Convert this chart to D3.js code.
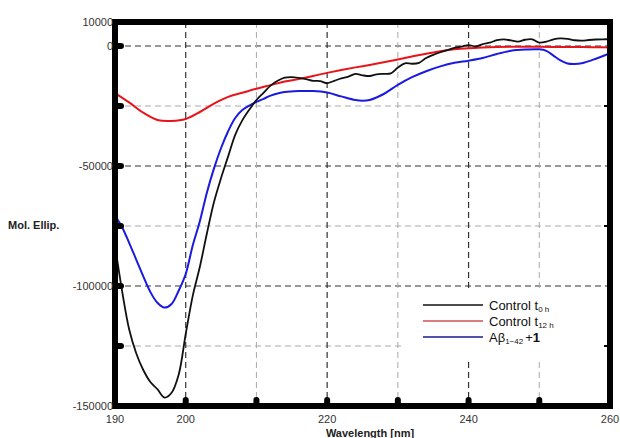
<!DOCTYPE html>
<html>
<head>
<meta charset="utf-8">
<script src="https://cdn.jsdelivr.net/npm/d3@7"></script>
<style>
  body { margin: 0; background: #fff; }
  svg text { font-family: Arial, "Liberation Sans", sans-serif; }
</style>
</head>
<body>
<svg id="vis" width="620" height="438"></svg>
<script>
// wavelength (nm) and mean residue ellipticity
const wlControl0 = d3.range(190, 261, 1);
const control0 = [
  -83000, -102000, -118000, -128000, -135000, -140000, -143000, -146500, -144500, -137000,
  -120000, -104000, -92000, -78000, -65000, -55000, -46000, -37000, -31000, -26500,
  -22500, -19500, -16500, -14500, -13200, -13000, -13300, -13800, -14500, -14600,
  -15500, -14500, -13500, -12800, -11600, -12200, -12500, -11800, -11600, -11400,
  -9000, -7200, -7400, -7000, -5000, -3700, -2600, -1700, -800, -300,
  400, -200, 800, 1400, 2400, 2800, 2300, 1800, 2600, 2800,
  1400, 1800, 2800, 3200, 3000, 2400, 2200, 2500, 2700, 2800,
  2800
];

const wlControl12 = d3.range(190, 261, 2);
const control12 = [
  -19600, -23500, -27800, -30800, -31200, -30400, -27500, -24000, -21200, -19500,
  -17800, -16300, -14800, -13800, -12500, -11200, -10000, -8900, -7900, -6800,
  -5600, -4400, -3200, -2200, -1400, -900, -600, -400, -300, -300,
  -350, -400, -400, -450, -500, -600
];

const wlAbeta = [190, 191, 192, 193, 194, 195, 196, 197, 198, 199,
  200, 201, 202, 203, 204, 205, 206, 207, 208, 209,
  210, 211, 212, 213, 214, 216, 218, 220, 222, 224,
  225, 226, 228, 230, 232, 234, 236, 238, 240, 242,
  244, 246, 248, 250, 251, 252, 253, 254, 255, 256,
  258, 260];
const abeta = [-70800, -75500, -82000, -89000, -96000, -102500, -107000, -109000, -107500, -102000,
  -95000, -83000, -73000, -61000, -51000, -42500, -35500, -30000, -26700, -24800,
  -23300, -22000, -20700, -19800, -19200, -18800, -18800, -19400, -21000, -22500,
  -22800, -22500, -20000, -16200, -13000, -10500, -8500, -7000, -6100, -5000,
  -3300, -2000, -1500, -1400, -2000, -4000, -6000, -7300, -7500, -7200,
  -5300, -3000];

const yTickLabels = [10000, 0, -50000, -100000, -150000];
const xTickLabels = [190, 200, 220, 240, 260];
const yMajorGrid = [0, -50000, -100000];
const yMinorGrid = [-25000, -75000, -125000];
const xMajorGrid = [200, 220, 240];
const xMinorGrid = [210, 230, 250];

const svg = d3.select("svg#vis");
const plot = { left: 115, right: 610, top: 22, bottom: 406 };

const x = d3.scaleLinear().domain([190, 260]).range([plot.left, plot.right]);
const y = d3.scaleLinear().domain([-150000, 10000]).range([plot.bottom, plot.top]);

// grid
const grid = svg.append("g");
grid.selectAll("line.hmaj").data(yMajorGrid).enter().append("line")
  .attr("x1", plot.left).attr("x2", plot.right)
  .attr("y1", d => y(d)).attr("y2", d => y(d))
  .attr("stroke", "#333").attr("stroke-width", 1.2).attr("stroke-dasharray", "6,4");
grid.selectAll("line.hmin").data(yMinorGrid).enter().append("line")
  .attr("x1", plot.left).attr("x2", plot.right)
  .attr("y1", d => y(d)).attr("y2", d => y(d))
  .attr("stroke", "#aaa").attr("stroke-width", 1).attr("stroke-dasharray", "6,4");
grid.selectAll("line.vmaj").data(xMajorGrid).enter().append("line")
  .attr("y1", plot.top).attr("y2", plot.bottom)
  .attr("x1", d => x(d)).attr("x2", d => x(d))
  .attr("stroke", "#333").attr("stroke-width", 1.2).attr("stroke-dasharray", "6,4");
grid.selectAll("line.vmin").data(xMinorGrid).enter().append("line")
  .attr("y1", plot.top).attr("y2", plot.bottom)
  .attr("x1", d => x(d)).attr("x2", d => x(d))
  .attr("stroke", "#aaa").attr("stroke-width", 1).attr("stroke-dasharray", "6,4");

// legend box (white, covers grid)
const legend = svg.append("g");
legend.append("rect")
  .attr("x", 405).attr("y", 290).attr("width", 202).attr("height", 70)
  .attr("fill", "#fff");

// curves
const line = d3.line()
  .x(d => x(d[0]))
  .y(d => y(d[1]))
  .curve(d3.curveCatmullRom);

const series = [
  { wl: wlControl12, v: control12, color: "#e8141a", w: 2 },
  { wl: wlAbeta, v: abeta, color: "#1a1ae0", w: 2 },
  { wl: wlControl0, v: control0, color: "#111", w: 1.8 }
];
svg.append("g").selectAll("path.curve").data(series).enter().append("path")
  .attr("d", s => line(s.wl.map((w, i) => [w, s.v[i]])))
  .attr("fill", "none")
  .attr("stroke", s => s.color)
  .attr("stroke-width", s => s.w)
  .attr("stroke-linejoin", "round");

// tick nubs on the frame
const nubs = svg.append("g").attr("fill", "#000");
nubs.selectAll("rect.ny").data(yMajorGrid.concat(yMinorGrid)).enter().append("rect")
  .attr("x", plot.left).attr("y", d => y(d) - 3)
  .attr("width", 9).attr("height", 6).attr("rx", 3);
nubs.selectAll("rect.nx").data(xMajorGrid.concat(xMinorGrid)).enter().append("rect")
  .attr("x", d => x(d) - 3).attr("y", plot.bottom - 9)
  .attr("width", 6).attr("height", 9).attr("rx", 3);
nubs.selectAll("rect.nr").data(yMinorGrid).enter().append("rect")
  .attr("x", plot.right - 6).attr("y", d => y(d) - 1)
  .attr("width", 6).attr("height", 2);

// frame
svg.append("rect")
  .attr("x", plot.left).attr("y", plot.top)
  .attr("width", plot.right - plot.left).attr("height", plot.bottom - plot.top)
  .attr("fill", "none").attr("stroke", "#000").attr("stroke-width", 6);

// tick labels
svg.append("g").selectAll("text").data(yTickLabels).enter().append("text")
  .attr("x", 113).attr("y", d => y(d)).attr("dy", "0.35em")
  .attr("text-anchor", "end").attr("font-size", 11).attr("fill", "#333")
  .text(d => d);
svg.append("g").selectAll("text").data(xTickLabels).enter().append("text")
  .attr("x", d => x(d)).attr("y", 423)
  .attr("text-anchor", "middle").attr("font-size", 11).attr("fill", "#333")
  .text(d => d);

// axis titles
svg.append("text").attr("x", 8).attr("y", 229)
  .attr("font-size", 11).attr("font-weight", "bold").attr("fill", "#222")
  .text("Mol. Ellip.");
svg.append("text").attr("x", 370).attr("y", 437).attr("text-anchor", "middle")
  .attr("font-size", 11).attr("font-weight", "bold").attr("fill", "#222")
  .text("Wavelength [nm]");

// legend entries
const legendItems = [
  { color: "#111", main: "Control t", sub: "0 h", tail: null },
  { color: "#d05050", main: "Control t", sub: "12 h", tail: null },
  { color: "#1a1a90", main: "Aβ", sub: "1\u221242", tail: true }
];
const rows = legend.selectAll("g.row").data(legendItems).enter().append("g")
  .attr("transform", (d, i) => "translate(0," + (305 + i * 16) + ")");
rows.append("line")
  .attr("x1", 423).attr("x2", 483).attr("y1", 0).attr("y2", 0)
  .attr("stroke", d => d.color).attr("stroke-width", 1.5);
const txt = rows.append("text").attr("x", 489).attr("y", 4.5)
  .attr("font-size", 13).attr("fill", "#111");
txt.append("tspan").text(d => d.main);
txt.append("tspan").attr("font-size", 8).attr("dy", 2.5).text(d => d.sub);
txt.filter(d => d.tail).append("tspan").attr("dy", -2.5).attr("dx", 2).text("+");
txt.filter(d => d.tail).append("tspan").attr("font-weight", "bold").text("1");
</script>
</body>
</html>
